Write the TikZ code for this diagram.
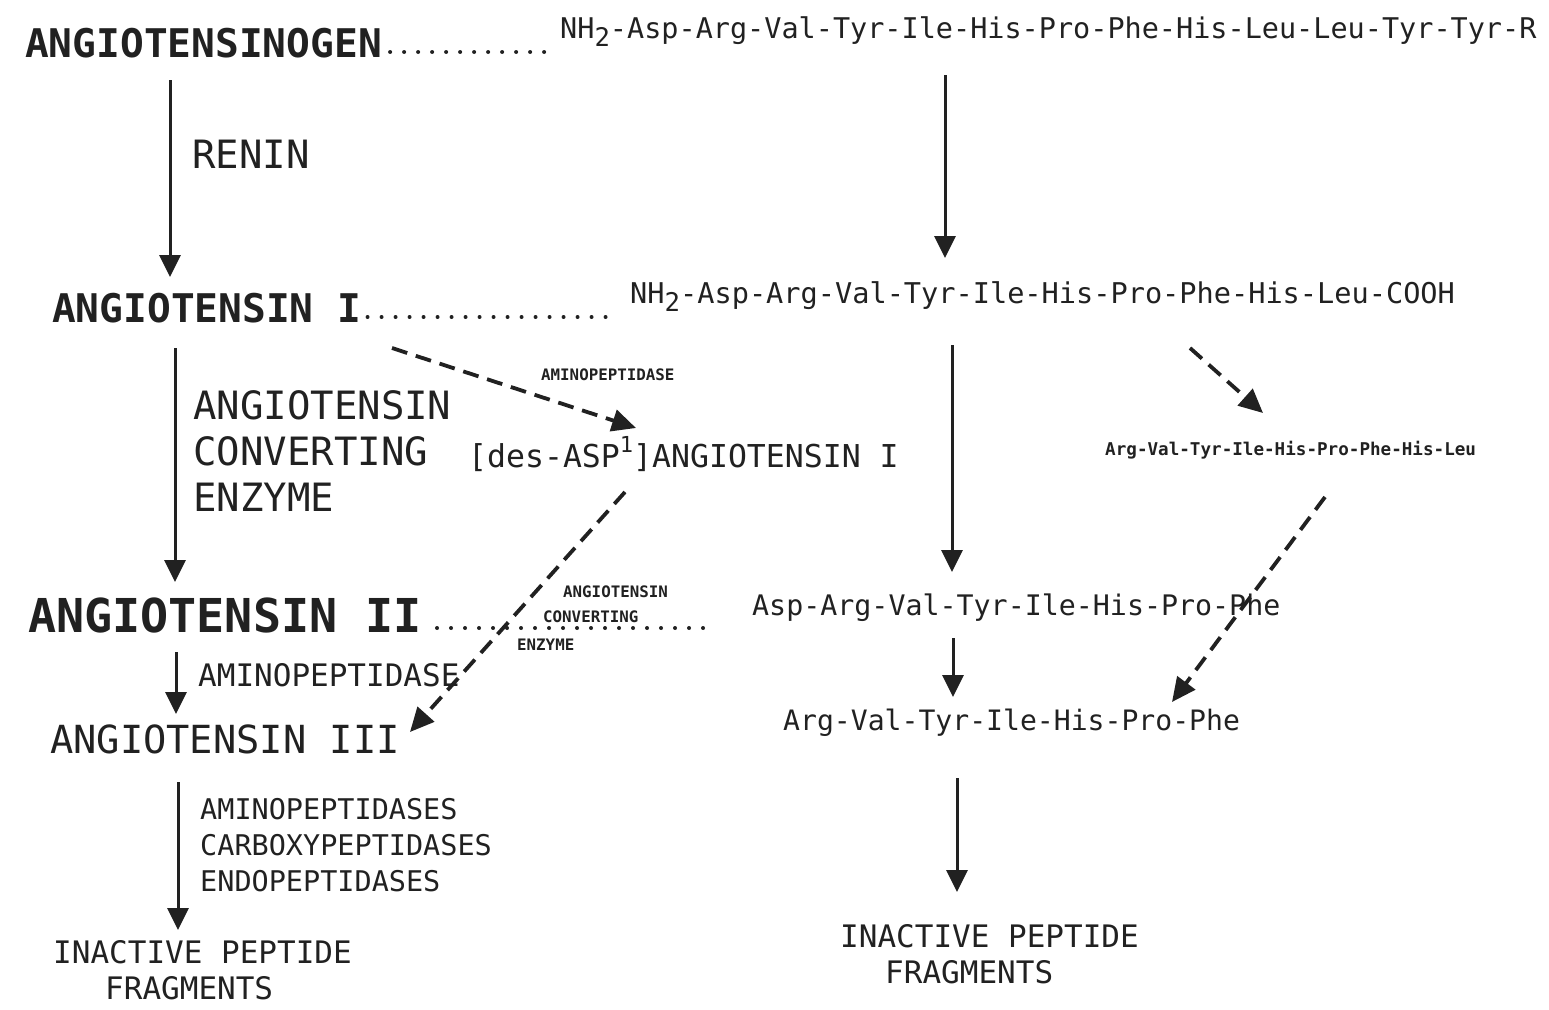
\documentclass[tikz,border=0pt]{standalone}
\usepackage{fontspec}
\usepackage{tikz}
\usetikzlibrary{arrows.meta,positioning,calc}
\newfontfamily\plotfont{DejaVu Sans Mono}
\newcommand\fsz[1]{\fontsize{#1}{#1}\selectfont}
\newcommand\subtwo{\raisebox{-0.3em}{\scalebox{0.9}{2}}}
\newcommand\supone{\raisebox{0.45em}{\scalebox{0.7}{1}}}
\definecolor{ink}{gray}{0.13}

\begin{document}
\begin{tikzpicture}[
  x=1pt, y=-1pt,
  lbl/.style={inner sep=0pt, anchor=base west, text=ink, font=\plotfont\fsz{39}},
  hdr/.style={lbl, font=\plotfont\bfseries\fsz{39.5}},
  tiny/.style={lbl, font=\plotfont\bfseries\fsz{15.8}},
  arrow/.style={-{Triangle[length=22pt, width=21pt]}, line width=3pt, draw=ink},
  darrow/.style={-{Triangle[length=24pt, width=22pt]}, line width=3.8pt, draw=ink, dash pattern=on 16pt off 9pt},
  dots/.style={line width=4pt, line cap=round, draw=ink, dash pattern=on 0pt off 14pt}
]
\useasboundingbox (0,0) rectangle (1549,1009);

% left column
\node[hdr] (agen) at (25,57) {ANGIOTENSINOGEN};
\node[lbl] (renin) at (192,168) {RENIN};
\node[hdr] (angI) at (52,322) {ANGIOTENSIN I};
\node[lbl, anchor=north west, align=left, font=\plotfont\fontsize{39}{46}\selectfont] (ace) at (193,390) {ANGIOTENSIN\\CONVERTING\\ENZYME};
\node[hdr, font=\plotfont\bfseries\fsz{46.7}] (angII) at (28,632) {ANGIOTENSIN II};
\node[lbl, font=\plotfont\fsz{31}] (apepII) at (198,686) {AMINOPEPTIDASE};
\node[lbl, font=\plotfont\fsz{38.7}] (angIII) at (50,753) {ANGIOTENSIN III};
\node[lbl, anchor=north west, align=left, font=\plotfont\fontsize{28.5}{36}\selectfont] (peps) at (200,798) {AMINOPEPTIDASES\\CARBOXYPEPTIDASES\\ENDOPEPTIDASES};
\node[lbl, anchor=north west, align=left, font=\plotfont\fontsize{31}{36}\selectfont] (inactL) at (53,940) {INACTIVE PEPTIDE\\\hspace*{52pt}FRAGMENTS};

% middle
\node[tiny] (apepI) at (541,380) {AMINOPEPTIDASE};
\node[lbl, font=\plotfont\fsz{31.5}] (desI) at (468,467) {[des-ASP\supone]ANGIOTENSIN I};
\node[tiny] (aceA) at (563,597) {ANGIOTENSIN};
\node[tiny] (aceB) at (543,622) {CONVERTING};
\node[tiny] (aceC) at (517,650) {ENZYME};

% right column
\node[lbl, font=\plotfont\fsz{28.5}] (sagen) at (560,38) {NH\subtwo-Asp-Arg-Val-Tyr-Ile-His-Pro-Phe-His-Leu-Leu-Tyr-Tyr-R};
\node[lbl, font=\plotfont\fsz{28.6}] (sI) at (630,303) {NH\subtwo-Asp-Arg-Val-Tyr-Ile-His-Pro-Phe-His-Leu-COOH};
\node[lbl, font=\plotfont\bfseries\fsz{17.6}] (sdes) at (1105,455) {Arg-Val-Tyr-Ile-His-Pro-Phe-His-Leu};
\node[lbl, font=\plotfont\fsz{28.3}] (sII) at (752,615) {Asp-Arg-Val-Tyr-Ile-His-Pro-Phe};
\node[lbl, font=\plotfont\fsz{28.1}] (sIII) at (783,730) {Arg-Val-Tyr-Ile-His-Pro-Phe};
\node[lbl, anchor=north west, align=left, font=\plotfont\fontsize{31}{36}\selectfont] (inactR) at (840,924) {INACTIVE PEPTIDE\\\hspace*{45pt}FRAGMENTS};

% dotted leaders
\draw[dots] ($(agen.base east)+(8,-5)$) -- ($(agen.base east -| sagen.west)+(-15,-5)$);
\draw[dots] ($(angI.base east)+(6,-5)$) -- ($(angI.base east -| sI.west)+(-20,-5)$);
\draw[dots] ($(angII.base east)+(15,-4)$) -- ($(angII.base east -| sII.west)+(-42,-4)$);

% solid arrows
\draw[arrow] ([shift={(145,23)}]agen.base west) -- ([shift={(118,-45)}]angI.base west);
\draw[arrow] ([shift={(123,26)}]angI.base west) -- ([shift={(147,-50)}]angII.base west);
\draw[arrow] ([shift={(148,20)}]angII.base west) -- ([shift={(126,-39)}]angIII.base west);
\draw[arrow] ([shift={(128,29)}]angIII.base west) -- ([shift={(125,-10)}]inactL.north west);
\draw[arrow] ([shift={(385,37)}]sagen.base west) -- ([shift={(315,-45)}]sI.base west);
\draw[arrow] ([shift={(322,42)}]sI.base west) -- ([shift={(200,-43)}]sII.base west);
\draw[arrow] ([shift={(201,23)}]sII.base west) -- ([shift={(170,-33)}]sIII.base west);
\draw[arrow] ([shift={(174,48)}]sIII.base west) -- ([shift={(117,-32)}]inactR.north west);

% dashed arrows
\draw[darrow] ([shift={(340,26)}]angI.base west) -- ([shift={(168,-39)}]desI.base west);
\draw[darrow] ([shift={(157,25)}]desI.base west) -- ([shift={(360,-21)}]angIII.base west);
\draw[darrow] ([shift={(560,45)}]sI.base west) -- ([shift={(158,-42)}]sdes.base west);
\draw[darrow] ([shift={(220,42)}]sdes.base west) -- ([shift={(389,-28)}]sIII.base west);
\end{tikzpicture}
\end{document}
